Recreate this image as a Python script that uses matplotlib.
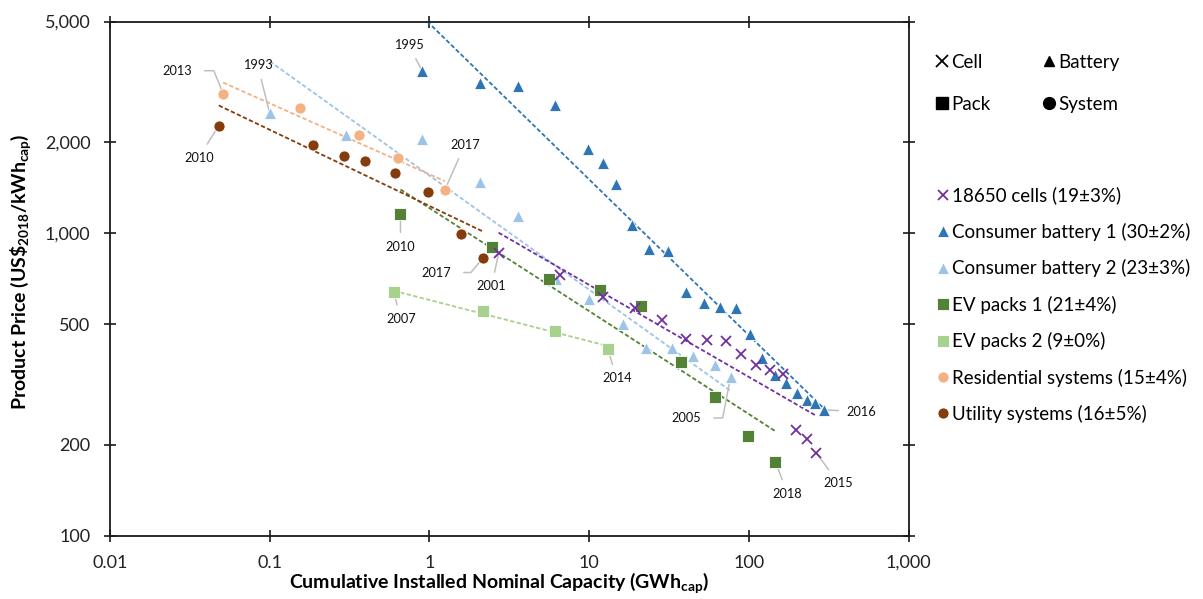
import numpy as np
import matplotlib
matplotlib.use("Agg")
import matplotlib.pyplot as plt
from matplotlib.lines import Line2D
from matplotlib.ticker import FixedLocator, NullLocator

plt.rcParams['font.family'] = ['Lato', 'DejaVu Sans']
plt.rcParams['mathtext.fontset'] = 'custom'
plt.rcParams['mathtext.rm'] = 'Lato'
plt.rcParams['mathtext.bf'] = 'Lato:bold'

# ---- data: cumulative capacity (GWh) and price (US$2018/kWh) ----
cells_cap = [2.71, 6.56, 12.2, 19.4, 28.7, 40.2, 54.4, 71.5, 90, 111, 136.6, 163.8, 197.6, 231, 265]
cells_price = [857, 726, 617, 567, 515, 448, 443, 439, 398, 368, 353, 344, 224, 209, 188]

battery1_cap = [0.904, 2.08, 3.61, 6.13, 9.9, 12.2, 14.7, 18.5, 23.7, 31.3, 40.4, 52.3, 65.6,
                82.6, 101.4, 121.8, 146.8, 172, 201, 231, 261, 294]
battery1_price = [3430, 3140, 3062, 2641, 1897, 1706, 1453, 1063, 885, 874, 639, 586, 569,
                  566, 463, 387, 339, 319, 297, 282, 275, 261]

battery2_cap = [0.1, 0.299, 0.9, 2.07, 3.61, 6.19, 10, 16.2, 22.8, 32.9, 44.7, 61, 76.9]
battery2_price = [2490, 2111, 2048, 1479, 1136, 708, 608, 500, 418, 418, 392, 368, 335]

ev1_cap = [0.659, 2.45, 5.57, 11.7, 21.2, 37.8, 61, 99, 146.8]
ev1_price = [1159, 901, 704, 649, 575, 375, 288, 214, 176]

ev2_cap = [0.598, 2.18, 6.13, 13.1]
ev2_price = [639, 553, 477, 413]

resid_cap = [0.0511, 0.154, 0.362, 0.637, 1.25]
resid_price = [2887, 2594, 2111, 1776, 1391]

util_cap = [0.048, 0.1865, 0.294, 0.396, 0.613, 0.976, 1.58, 2.18]
util_price = [2266, 1956, 1803, 1735, 1577, 1364, 992, 831]

series_names = ["18650 cells", "Consumer battery 1", "Consumer battery 2", "EV packs 1",
                "EV packs 2", "Residential systems", "Utility systems"]
learning_rates = [19, 30, 23, 21, 9, 15, 16]   # % price drop per doubling
learning_errors = [3, 2, 3, 4, 0, 4, 5]

x_ticks = [0.01, 0.1, 1, 10, 100, 1000]
x_tick_labels = ["0.01", "0.1", "1", "10", "100", "1,000"]
y_ticks = [100, 200, 500, 1000, 2000, 5000]
y_tick_labels = ["100", "200", "500", "1,000", "2,000", "5,000"]

# year labels: (series index, point index, text)
year_labels = [(1, 0, "1995"), (1, 21, "2016"), (2, 0, "1993"), (2, 12, "2005"),
               (0, 0, "2001"), (0, 14, "2015"), (3, 0, "2010"), (3, 8, "2018"),
               (4, 0, "2007"), (4, 3, "2014"), (5, 0, "2013"), (5, 4, "2017"),
               (6, 0, "2010"), (6, 7, "2017")]

# ---- styling ----
colors = ["#7030A0", "#2E75B6", "#9DC3E6", "#548235", "#A9D18E", "#F4B183", "#843C0C"]
markers = ["x", "^", "^", "s", "s", "o", "o"]
msizes = [6.5, 8.3, 8.3, 8, 8, 8, 8]
draw_order = [2, 1, 4, 3, 5, 6, 0]

# label placement offsets in pixels (dx right, dy up) and optional elbow angle
label_offsets = {
    (1, 0): (-14, 26, None), (1, 21): (38, -2, None),
    (2, 0): (-12, 48, None), (2, 12): (-44, -41, 79),
    (0, 0): (-7, -33, None), (0, 14): (22, -30, None),
    (3, 0): (0, -33, None), (3, 8): (12, -32, None),
    (4, 0): (7, -27, None), (4, 3): (9, -29, None),
    (5, 0): (-46, 23, -68), (5, 4): (20, 45, None),
    (6, 0): (-20, -32, None), (6, 7): (-47, -15, 50),
}

caps = [cells_cap, battery1_cap, battery2_cap, ev1_cap, ev2_cap, resid_cap, util_cap]
prices = [cells_price, battery1_price, battery2_price, ev1_price, ev2_price, resid_price, util_price]

W, H = 1203, 599
fig = plt.figure(figsize=(W / 100, H / 100), dpi=100)
ax = fig.add_axes([110 / W, 63 / H, 798.5 / W, 514.5 / H])
ax.set_xscale("log")
ax.set_yscale("log")
ax.set_xlim(0.01, 1000)
ax.set_ylim(100, 5000)

handles = [None] * 7
for i in draw_order:
    x = np.asarray(caps[i], float)
    y = np.asarray(prices[i], float)
    # experience curve with the stated learning rate, fitted through the data
    b = np.log2(1 - learning_rates[i] / 100)
    lx, ly = np.log10(x), np.log10(y)
    a = ly.mean() - b * lx.mean()
    xs = np.logspace(lx.min(), lx.max(), 60)
    ax.plot(xs, 10 ** (a + b * np.log10(xs)), color=colors[i], lw=1.3,
            ls=(0, (2.4, 1.3)), zorder=2)
    label = f"{series_names[i]} ({learning_rates[i]}\u00b1{learning_errors[i]}%)"
    if markers[i] == "x":
        h, = ax.plot(x, y, ls="none", marker="x", ms=msizes[i], mew=1.3,
                     color=colors[i], zorder=4, label=label)
    else:
        h, = ax.plot(x, y, ls="none", marker=markers[i], ms=msizes[i], mfc=colors[i],
                     mec="white", mew=0.6, zorder=3, label=label)
    handles[i] = h

for si, pi, txt in year_labels:
    dx, dy, elbow = label_offsets[(si, pi)]
    if elbow is None:
        cs = "arc3"
        sa = 4
    else:
        cs = f"angle,angleA=0,angleB={elbow},rad=0"
        sa = 7
    ax.annotate(txt, xy=(caps[si][pi], prices[si][pi]),
                xytext=(dx * 0.72, dy * 0.72), textcoords="offset points",
                ha="center", va="center", fontsize=9.2, color="#111111", zorder=2.5,
                arrowprops=dict(arrowstyle="-", color="#BFBFBF", lw=1.1,
                                connectionstyle=cs, shrinkA=sa, shrinkB=0))

# axes frame and ticks
for sp in ax.spines.values():
    sp.set_color("#1a1a1a")
    sp.set_linewidth(1.3)
ax.xaxis.set_major_locator(FixedLocator(x_ticks))
ax.yaxis.set_major_locator(FixedLocator(y_ticks))
ax.xaxis.set_minor_locator(NullLocator())
ax.yaxis.set_minor_locator(NullLocator())
ax.set_xticklabels(x_tick_labels)
ax.set_yticklabels(y_tick_labels)
ax.tick_params(which="major", direction="inout", length=8, width=1.2, color="#1a1a1a",
               top=True, right=True, labelsize=13, labelcolor="#222222")
ax.tick_params(axis="y", pad=10)
ax.tick_params(axis="x", pad=9.5)

ax.set_xlabel(r"Cumulative Installed Nominal Capacity (GWh$\mathregular{_{cap}}$)",
              fontsize=14, fontweight="bold")
ax.set_ylabel(r"Product Price (US\$$\mathregular{_{2018}}$/kWh$\mathregular{_{cap}}$)",
              fontsize=14, fontweight="bold")
ax.xaxis.set_label_coords(0.487, -0.09)
ax.xaxis.label.set_va("center")
ax.yaxis.set_label_coords(-0.112, 0.513)
ax.yaxis.label.set_va("center")

# key for marker shapes
shape_handles = [
    Line2D([], [], ls="none", marker="x", ms=8.5, mew=1.3, color="black", label="Cell"),
    Line2D([], [], ls="none", marker="s", ms=9, color="black", label="Pack"),
    Line2D([], [], ls="none", marker="^", ms=7, color="black", label="Battery"),
    Line2D([], [], ls="none", marker="o", ms=8.5, color="black", label="System"),
]
leg1 = ax.legend(handles=shape_handles, ncol=2, loc="upper left",
                 bbox_to_anchor=(936 / W, 1 - 54 / H), bbox_transform=fig.transFigure,
                 frameon=False, fontsize=13.5, handlelength=0.6, handletextpad=0.23,
                 columnspacing=2.78, labelspacing=1.32, borderpad=0, borderaxespad=0)
ax.add_artist(leg1)

leg2 = ax.legend(handles=handles, loc="upper left",
                 bbox_to_anchor=(937.5 / W, 1 - 186.5 / H), bbox_transform=fig.transFigure,
                 frameon=False, fontsize=13.5, handlelength=0.6, handletextpad=0.2,
                 labelspacing=0.98, borderpad=0, borderaxespad=0, markerscale=1.0)

fig.savefig("out.png", dpi=100)
